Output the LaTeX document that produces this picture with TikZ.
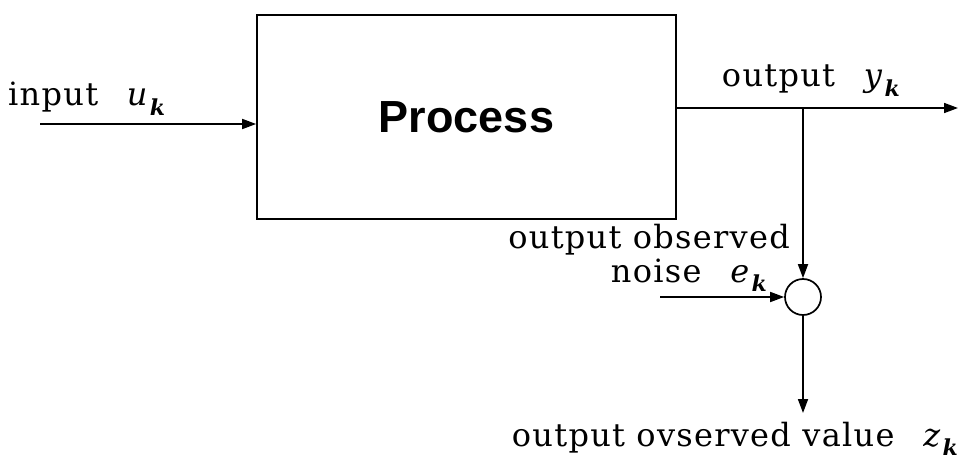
\documentclass[tikz,border=0pt]{standalone}
\usepackage{fontspec}
\usetikzlibrary{arrows.meta}
\newfontfamily\lbl[LetterSpace=4]{DejaVu Serif}
\newfontfamily\procfont{Liberation Sans}
\newcommand\symsub[2]{\textit{#1}\kern1pt\raisebox{-0.3em}{\fontsize{22}{24}\selectfont\bfseries\itshape #2}}
\tikzset{
  wire/.style={line width=1.7pt, -{Triangle[length=14pt,width=10pt]}},
  lab/.style={font=\lbl\fontsize{32}{38}\selectfont, inner sep=0pt},
}
\begin{document}
\begin{tikzpicture}[x=1pt,y=-1pt]
\useasboundingbox (0,0) rectangle (966,465);
\node[draw, line width=1.7pt, minimum width=419pt, minimum height=204pt, inner sep=0pt,
      font=\procfont\bfseries\fontsize{45}{50}\selectfont] (box) at (466.5,117) {Process};
\node[circle, draw, line width=1.7pt, minimum size=36pt, inner sep=0pt] (sum) at (803,297) {};
\coordinate (in) at (40,124);
\coordinate (outy) at (0,108);
\coordinate (outend) at (958,108);
\coordinate (br) at (803,108);
\coordinate (ne) at (660,297);
\coordinate (zend) at (803,413);
\draw[wire] (in) -- (in -| box.west);
\draw[wire] (box.east |- outy) -- (outend);
\draw[wire] (br) -- (sum.north);
\draw[wire] (ne) -- (sum.west);
\draw[wire] (sum.south) -- (zend);
\node[lab, anchor=base west] (tin) at (8,106) {input\hspace{0.9em}\symsub{u}{k}};
\node[lab, anchor=base east] (tout) at (900,87) {output\hspace{0.9em}\symsub{y}{k}};
\node[lab, anchor=base east] (tobs) at (790,248) {output observed};
\node[lab, anchor=base east] (tnoise) at (767,282) {noise\hspace{0.9em}\symsub{e}{k}};
\node[lab, anchor=base east] (tz) at (958,446) {output ovserved value\hspace{0.9em}\symsub{z}{k}};
\end{tikzpicture}
\end{document}
